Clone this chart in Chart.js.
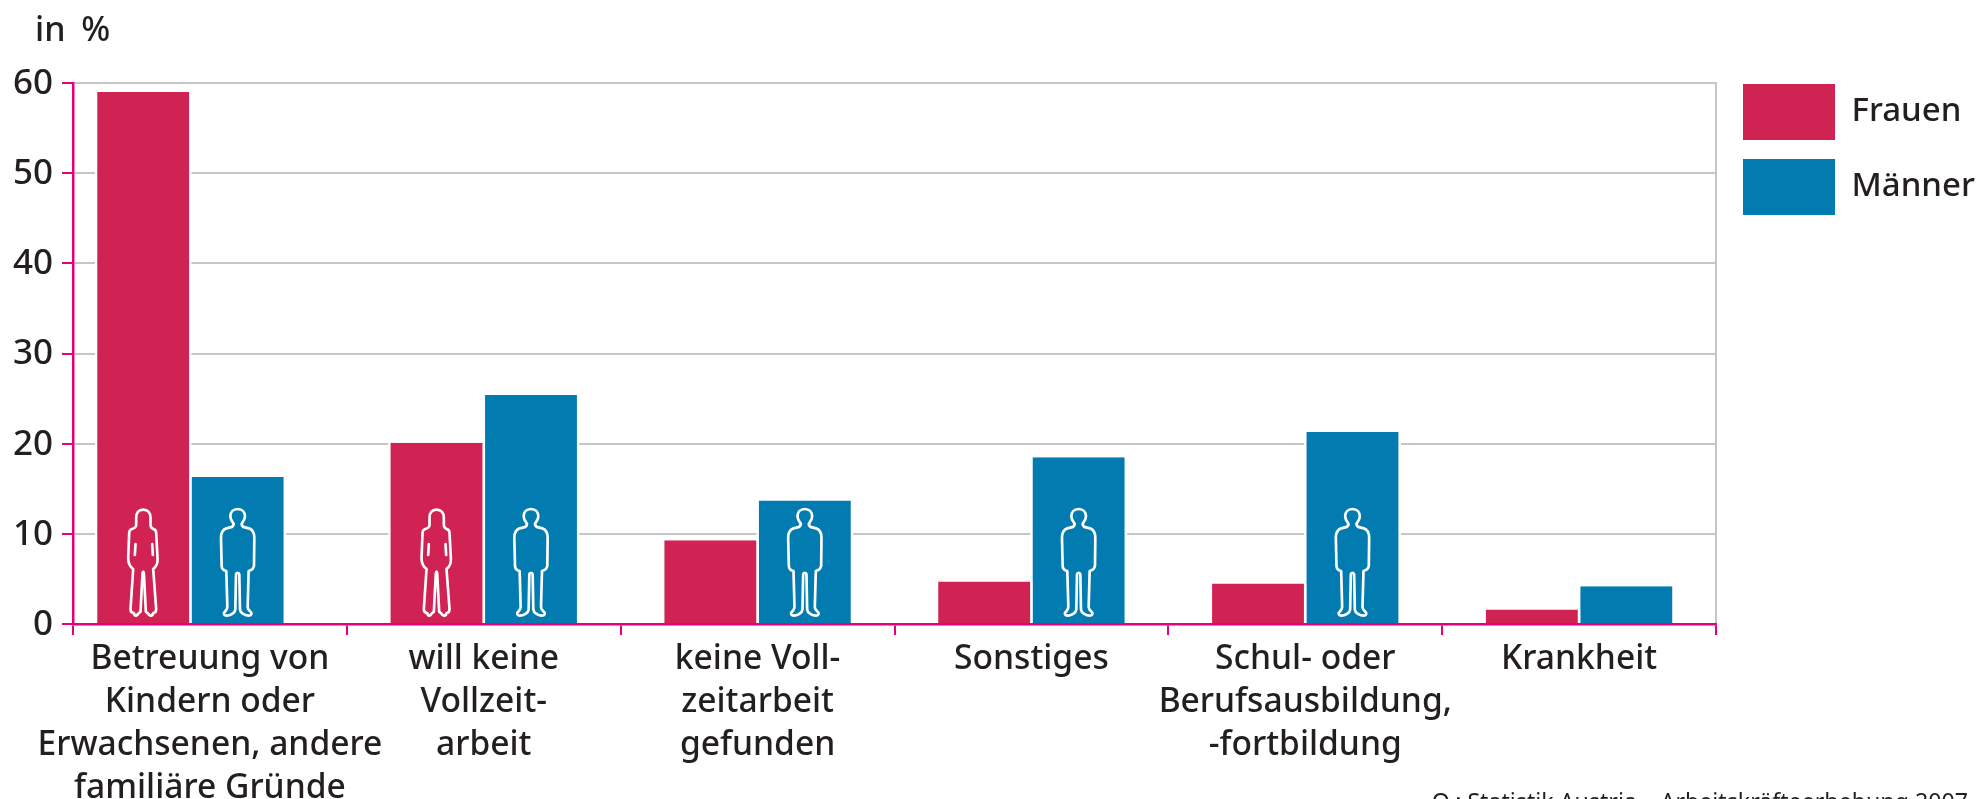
<!DOCTYPE html>
<html lang="de">
<head>
<meta charset="utf-8">
<title>Gründe für Teilzeitarbeit</title>
<script src="https://cdn.jsdelivr.net/npm/chart.js@4"></script>
<style>html,body{margin:0;padding:0;background:#fff;overflow:hidden}canvas{display:block}</style>
</head>
<body>
<canvas id="c" width="1980" height="799"></canvas>
<script>
const categories = [
  ['Betreuung von','Kindern oder','Erwachsenen, andere','familiäre Gründe'],
  ['will keine','Vollzeit-','arbeit'],
  ['keine Voll-','zeitarbeit','gefunden'],
  ['Sonstiges'],
  ['Schul- oder','Berufsausbildung,','-fortbildung'],
  ['Krankheit']
];
const frauen = [59, 20.1, 9.3, 4.7, 4.5, 1.6];
const maenner = [16.3, 25.4, 13.7, 18.5, 21.3, 4.2];
const frauenIcon = [true, true, false, false, false, false];
const maennerIcon = [true, true, true, true, true, false];
const yTicks = [0, 10, 20, 30, 40, 50, 60];
const unitLabel = 'in %';
const sourceLabel = 'Q.: Statistik Austria – Arbeitskräfteerhebung 2007';

const FONT = '"Noto Sans"';
const WEIGHT = 500;
const TEXT = '#231f20', PINK = '#e6007e', GRID = '#c6c6c6', RED = '#d12254', BLUE = '#027cb0';

const femalePath = new Path2D('M0 -340 C-14 -340 -21 -330 -21 -316 L-21 -294 C-21 -288 -26 -284 -36 -281 C-40 -279 -42 -276 -42 -270 L-45 -195 C-45 -180 -42 -170 -30 -162 L-38 -42 C-38 -34 -34 -30 -28 -30 L-26 -24 C-22 -20 -18 -22 -15 -28 L-8 -34 L-2 -150 C-1 -156 1 -156 2 -150 L8 -34 L15 -28 C18 -22 24 -20 28 -24 L30 -30 C36 -30 39 -34 39 -42 L30 -162 C42 -172 44 -180 43 -195 L39 -270 C39 -276 36 -280 32 -281 C26 -284 22 -288 22 -294 L22 -316 C22 -330 14 -340 0 -340 Z M-23 -237 L-25 -204 M27 -237 L29 -204');
const malePath = new Path2D('M0 -342 C-14 -342 -22 -332 -22 -320 C-22 -310 -16 -304 -12 -298 C-12 -292 -16 -288 -22 -287 L-34 -284 C-44 -280 -50 -270 -50 -256 L-48 -172 C-48 -164 -42 -158 -34 -156 L-31 -48 C-31 -42 -34 -40 -38 -34 C-44 -30 -42 -22 -34 -22 C-22 -22 -8 -30 -7 -40 L-5 -146 C-4 -152 4 -152 5 -146 L7 -40 C8 -30 22 -22 34 -22 C42 -22 44 -30 38 -34 C32 -40 30 -42 30 -48 L33 -156 C42 -158 48 -164 49 -172 L50 -256 C50 -270 44 -280 34 -284 L22 -287 C16 -288 12 -292 12 -298 C16 -304 22 -310 22 -320 C22 -332 14 -342 0 -342 Z');

const layoutPlugin = {
  id: 'layoutTweaks',
  afterLayout(chart) {
    const l = chart.legend, pad = l.options.labels.padding;
    const w = l.width, h = l.height;
    l.left = 1743 - pad; l.right = l.left + w;
    l.top = 84 - pad; l.bottom = l.top + h;
  },
  afterDatasetsUpdate(chart) {
    // the first group sits left of its category centre in the original
    chart.data.datasets.forEach((d, i) => {
      const el = chart.getDatasetMeta(i).data[0];
      if (el) el.x -= 19.5;
    });
  },
  beforeDatasetsDraw(chart) {
    const {ctx, chartArea: a} = chart;
    ctx.save();
    ctx.strokeStyle = GRID; ctx.lineWidth = 2;
    ctx.beginPath(); ctx.moveTo(a.right, a.top - 1); ctx.lineTo(a.right, a.bottom); ctx.stroke();
    ctx.restore();
  },
  afterDatasetsDraw(chart) {
    const ctx = chart.ctx, y0 = chart.scales.y.getPixelForValue(0);
    const draw = (dsIndex, flags, path) => {
      chart.getDatasetMeta(dsIndex).data.forEach((bar, i) => {
        if (!flags[i]) return;
        ctx.save();
        ctx.translate(bar.x, y0 - 1);
        ctx.scale(1 / 3, 1 / 3);
        ctx.strokeStyle = '#fff'; ctx.lineWidth = 8; ctx.lineJoin = 'round'; ctx.lineCap = 'round';
        ctx.stroke(path);
        ctx.restore();
      });
    };
    draw(0, frauenIcon, femalePath);
    draw(1, maennerIcon, malePath);
  },
  afterDraw(chart) {
    const ctx = chart.ctx;
    ctx.save();
    ctx.fillStyle = TEXT; ctx.textBaseline = 'alphabetic';
    ctx.font = WEIGHT + ' 34px ' + FONT; ctx.textAlign = 'left';
    ctx.wordSpacing = '7px';
    ctx.fillText(unitLabel, 35, 41);
    ctx.wordSpacing = '0px';
    ctx.font = '23.2px ' + FONT; ctx.textAlign = 'right';
    ctx.fillText(sourceLabel, 1968, 810);
    ctx.restore();
  }
};

const barBorder = {top: 0, left: 2.5, right: 2.5, bottom: 0};
new Chart(document.getElementById('c'), {
  type: 'bar',
  data: {
    labels: categories,
    datasets: [
      {label: 'Frauen', data: frauen, backgroundColor: RED, borderColor: '#fff', borderWidth: barBorder, inflateAmount: 0},
      {label: 'Männer', data: maenner, backgroundColor: BLUE, borderColor: '#fff', borderWidth: barBorder, inflateAmount: 0}
    ]
  },
  options: {
    responsive: false,
    animation: false,
    devicePixelRatio: 1,
    categoryPercentage: 0.69,
    barPercentage: 1.025,
    layout: {padding: {left: 0, top: 83, right: 264, bottom: 0}},
    scales: {
      x: {
        afterFit(s) { s.height = 175; },
        border: {color: PINK, width: 2.5, z: 1},
        grid: {drawOnChartArea: false, drawTicks: true, tickColor: PINK, tickLength: 11, lineWidth: 2},
        ticks: {color: TEXT, font: {family: FONT, size: 33.6, weight: WEIGHT, lineHeight: 1.28}, padding: 3, autoSkip: false, maxRotation: 0, minRotation: 0}
      },
      y: {
        min: 0, max: 60,
        afterFit(s) { s.width = 73; },
        afterBuildTicks(s) { s.ticks = yTicks.map(v => ({value: v})); },
        border: {color: PINK, width: 2.5, z: 1},
        grid: {color: GRID, lineWidth: 2, tickColor: PINK, tickLength: 11, drawTicks: true},
        ticks: {color: TEXT, font: {family: FONT, size: 35, weight: WEIGHT}, padding: 9, labelOffset: 1}
      }
    },
    plugins: {
      tooltip: {enabled: false},
      legend: {
        position: 'chartArea',
        align: 'start',
        labels: {
          boxWidth: 92, boxHeight: 56, padding: 19, color: TEXT,
          font: {family: FONT, size: 33, weight: WEIGHT},
          generateLabels(chart) {
            return chart.data.datasets.map((d, i) => ({
              text: d.label, fillStyle: d.backgroundColor, strokeStyle: d.backgroundColor,
              lineWidth: 0, datasetIndex: i, hidden: false, fontColor: TEXT
            }));
          }
        }
      }
    }
  },
  plugins: [layoutPlugin]
});
</script>
</body>
</html>
